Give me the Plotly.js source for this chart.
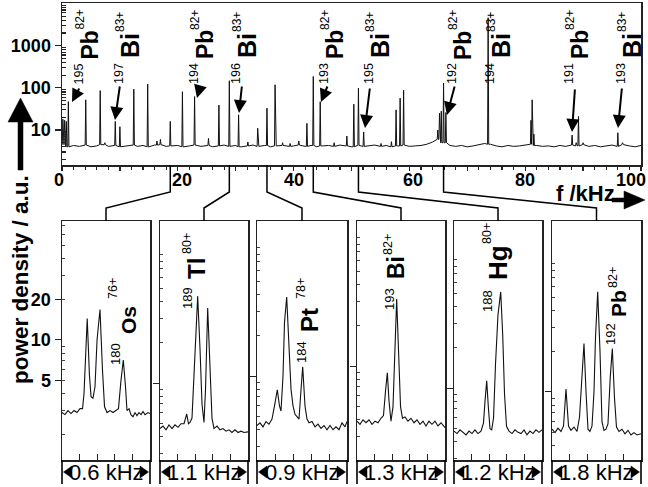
<!DOCTYPE html>
<html><head><meta charset="utf-8">
<script src="https://cdn.plot.ly/plotly-3.0.1.min.js"></script>
<style>html,body{margin:0;padding:0;background:#fff;overflow:hidden}#chart{width:648px;height:487px}</style>
</head><body><div id="chart"></div>
<script>
const W = 648, H = 487;
const FONT = 'Arial, "Liberation Sans", Helvetica, sans-serif';

// ---------- overview spectrum (0-100 kHz) ----------
// noise floor, one value per kHz from 0 to 100
const specBase = [4.5,4.0,4.3,4.1,4.4,4.0,4.2,4.5,4.1,4.3,
  4.0,4.2,4.4,4.1,4.3,4.0,4.4,4.5,4.1,4.2,
  4.3,4.0,4.2,4.4,4.1,4.3,4.0,4.2,4.4,4.1,
  4.3,4.0,4.2,4.4,4.1,4.3,4.0,4.2,4.3,4.1,
  4.2,4.4,4.1,4.3,4.0,4.2,4.3,4.1,4.4,4.2,
  4.0,4.3,4.1,4.2,4.4,4.1,4.3,4.0,4.2,4.4,
  4.1,4.2,4.3,4.6,5.2,6.0,5.0,4.3,4.1,4.3,
  4.0,4.2,4.4,4.8,4.6,4.2,4.0,4.3,4.1,4.2,
  4.4,4.6,4.3,4.1,4.2,4.0,4.3,4.1,4.4,4.2,
  4.5,4.1,4.3,4.0,4.2,4.4,4.1,4.5,4.2,4.0,4.3];
const peakFreq = [0.15,0.45,0.75,1.1,4.1,6.6,7.4,9.2,10.0,12.4,14.8,16.4,17.0,18.7,20.8,22.9,25.3,27.1,28.9,30.5,
  32.1,33.8,35.4,36.8,38.1,39.4,40.9,42.3,43.4,44.6,47.0,49.2,50.4,51.2,52.1,55.1,56.9,57.7,58.4,59.0,
  64.9,65.2,65.5,65.9,66.3,73.6,81.0,81.2,81.5,88.1,88.8,89.2,90.0,96.0,96.8];
const peakAmp = [18,17,16,47,52,86,5,16,12,93,123,5.5,6,16,81,62,6.3,39,147,23,
  5.2,11,33,118,5,4.8,5.5,14.4,186,47,5,7.2,41,98,9,4.8,5.3,30,57,88,
  10,25,28,130,26,4570,17,52,8,7.6,5,21,5,8.6,5];
const xTickVals = [0, 20, 40, 60, 80, 100];

// ---------- zoomed windows ----------
const osF  = [0,0.02,0.041,0.061,0.082,0.102,0.123,0.140,0.150,0.172,0.187,0.198,0.211,0.225,0.239,0.259,0.276,0.290,0.307,0.327,0.348,0.368,0.385,0.402,0.418,0.433,0.443,0.457,0.470,0.484,0.498,0.511,0.525,0.539,0.552,0.566,0.586,0.6];
const osP  = [2.9,2.8,3.0,2.85,3.0,2.9,3.1,3.1,4.0,14.4,5.5,3.8,3.7,4.5,10,16.8,6,3.2,2.9,3.0,2.9,3.0,3.1,5.0,7.1,4.5,3.0,3.1,2.8,2.7,2.9,2.75,2.9,2.8,2.95,2.8,2.9,2.85];
const tlF  = [0,0.0375,0.075,0.1125,0.15,0.1875,0.225,0.2625,0.3,0.334,0.356,0.375,0.4,0.4375,0.471,0.5,0.525,0.55,0.569,0.596,0.625,0.65,0.675,0.7125,0.75,0.7875,0.825,0.8625,0.9,0.9375,0.975,1.0125,1.05,1.1];
const tlP  = [4.6,4.8,4.5,4.9,4.6,4.9,4.7,5.0,5.0,5.9,5.0,5.1,5.5,15,44,18,7,5.1,9,36,14,5.5,4.6,4.8,4.5,4.6,4.4,4.5,4.3,4.5,4.3,4.4,4.3,4.35];
const ptF  = [0,0.03,0.06,0.09,0.12,0.15,0.175,0.203,0.225,0.24,0.26,0.275,0.297,0.32,0.34,0.36,0.38,0.4,0.42,0.435,0.457,0.48,0.5,0.52,0.55,0.58,0.61,0.64,0.67,0.70,0.73,0.76,0.79,0.82,0.85,0.88,0.9];
const ptP  = [4.3,4.5,4.2,4.6,4.4,4.8,6.0,7.9,6.0,5.5,10,25,38.5,15,8,6,5.2,5.0,4.8,7,11.7,6,4.8,4.5,4.6,4.2,4.4,4.1,4.3,4.0,4.3,4.0,4.2,4.0,4.5,4.2,4.6];
const biF  = [0,0.044,0.089,0.133,0.177,0.222,0.266,0.31,0.354,0.391,0.421,0.448,0.473,0.502,0.532,0.558,0.586,0.616,0.643,0.672,0.709,0.753,0.798,0.842,0.886,0.931,0.975,1.019,1.063,1.108,1.152,1.196,1.241,1.3];
const biP  = [3.9,3.7,4.0,3.8,4.0,3.7,3.9,3.8,4.1,4.3,6.5,8.9,5.5,3.9,5,15,31.3,12,5,4.1,4.2,3.9,4.1,3.8,4.0,3.7,3.9,3.6,3.9,3.7,3.9,3.6,3.8,3.5];
const hgF  = [0,0.041,0.082,0.123,0.164,0.205,0.245,0.286,0.327,0.368,0.402,0.423,0.446,0.470,0.491,0.514,0.539,0.566,0.600,0.637,0.664,0.689,0.716,0.75,0.791,0.832,0.873,0.914,0.955,0.995,1.036,1.077,1.118,1.159,1.2];
const hgP  = [4.8,4.6,4.9,4.7,4.5,4.8,4.6,4.9,4.6,4.8,5.5,8,11.3,7,5.0,4.9,6,15,35,51.5,25,9,5.2,4.8,4.6,4.9,4.7,4.6,4.9,4.5,4.8,4.6,4.9,4.7,4.9];
const pbF  = [0,0.061,0.121,0.182,0.233,0.283,0.334,0.384,0.445,0.506,0.556,0.607,0.647,0.688,0.728,0.768,0.809,0.849,0.879,0.924,0.971,1.011,1.052,1.092,1.132,1.179,1.22,1.264,1.304,1.355,1.416,1.476,1.537,1.597,1.658,1.719,1.8];
const pbP  = [5.3,5.0,5.4,5.1,5.6,10.5,5.6,5.2,5.5,5.1,6.5,14,22.9,10,5.3,5.1,5.6,10,25,55.2,20,6,5.2,5.3,5.8,13,21,9,5.5,5.1,5.3,4.9,5.2,4.8,5.0,4.8,4.9];

const panelF = [osF, tlF, ptF, biF, hgF, pbF];
const panelP = [osP, tlP, ptP, biP, hgP, pbP];
const panelSpan = [0.6, 1.1, 0.9, 1.3, 1.2, 1.8];
const panelSpanText = ['0.6 kHz','1.1 kHz','0.9 kHz','1.3 kHz','1.2 kHz','1.8 kHz'];
const zoomCenterF = [18.7, 28.9, 35.4, 43.4, 51.2, 65.9];

// labels
const topEl = ['Pb','Bi','Pb','Bi','Pb','Bi','Pb','Bi','Pb','Bi'];
const topMass = ['195','197','194','196','193','195','192','194','191','193'];
const topCharge = ['82+','83+','82+','83+','82+','83+','82+','83+','82+','83+'];
const insEl = ['Os','Tl','Pt','Bi','Hg','Pb'];
const insMass = ['180','189','184','193','188','192'];
const insCharge = ['76+','80+','78+','82+','80+','82+'];

// ---------- layout geometry (pixels) ----------
const topL = 62, topR = 641, topT = 3, topB = 165;
const panL = [62,160,257,357,454,552], panR = [150,248,347,445,542,641];
const panT = 221, panB = 460;
const panYRange = [[0.111,1.881],[0.430,2.200],[0.378,2.148],[0.304,2.074],[0.467,2.237],[0.496,2.267]];
const topLabX = [89.5,130,205,247,335,380,463,501,580,632];
const xTickShift = [-3, 4, 0, 4, 0, -10];
const arrows = [[80,87,72,102],[120,85,115,120],[200,87,197,98],[242,85,239,113],[328,85,321,102],
                [370,87,365,128],[455,85,447,115],[575,88,572,132],[622,87,618,128]];
const insElX=[128,196,309,396,498,618], insElY=[320,269,320,268,263,304], insElS=[21,24,24,23,26,21];
const insMassX=[115,187,301,389,487,610], insMassY=[354,298,352,299,301,334];
const insChX=[113,187,301,388,487,613], insChY=[289,244,289,245,234,278];

const px = x => x / W, py = y => 1 - y / H;

// ---------- build overview trace ----------
const pts = [];
specBase.forEach((b, i) => {
  if (!peakFreq.some(f => Math.abs(f - i) < 0.15)) pts.push([i, b]);
});
peakFreq.forEach((f, k) => {
  const foot = specBase[Math.round(f)];
  pts.push([f - 0.1, foot]); pts.push([f, peakAmp[k]]); pts.push([f + 0.1, foot]);
});
pts.sort((a, b) => a[0] - b[0]);

const traces = [{
  x: pts.map(p => p[0]), y: pts.map(p => p[1]), type: 'scatter', mode: 'lines',
  line: {color: '#111', width: 1}, xaxis: 'x', yaxis: 'y', hoverinfo: 'skip', showlegend: false
}];
panelF.forEach((f, k) => {
  traces.push({x: f, y: panelP[k], type: 'scatter', mode: 'lines', line: {color: '#111', width: 1.1},
    xaxis: 'x' + (k + 2), yaxis: 'y' + (k + 2), hoverinfo: 'skip', showlegend: false});
});

const minorLog = [];
[1,10,100,1000].forEach(d => { for (let m = 2; m <= 9; m++) minorLog.push(m * d); });

const layout = {
  width: W, height: H, margin: {l:0, r:0, t:0, b:0},
  paper_bgcolor: '#fff', plot_bgcolor: '#fff', showlegend: false,
  font: {family: FONT, color: '#000'},
  xaxis: {
    domain: [px(topL), px(topR)], range: [0, 100], anchor: 'y',
    showline: true, mirror: true, linecolor: '#222', linewidth: 1.5, showgrid: false, zeroline: false,
    tickmode: 'array', tickvals: [0,10,20,30,40,50,60,70,80,90,100], showticklabels: false,
    ticks: 'outside', ticklen: 4, tickwidth: 1.2, tickcolor: '#222',
    minor: {tickmode: 'linear', dtick: 2, ticks: 'outside', ticklen: 3, tickcolor: '#222'}
  },
  yaxis: {
    domain: [py(topB), py(topT)], type: 'log', range: [0.171, 4.01], anchor: 'x',
    showline: true, mirror: true, linecolor: '#222', linewidth: 1.5, showgrid: false, zeroline: false,
    tickmode: 'array', tickvals: [10, 100, 1000], ticktext: ['10','100','1000'],
    ticks: 'outside', ticklen: 6, tickwidth: 1.2, tickcolor: '#222',
    minor: {tickmode: 'array', tickvals: minorLog, ticks: 'inside', ticklen: 4, tickcolor: '#222'},
    tickfont: {family: FONT, size: 18, weight: 'bold', color: '#000'}
  },
  shapes: [], annotations: []
};

panelSpan.forEach((w, k) => {
  const xa = 'xaxis' + (k + 2), ya = 'yaxis' + (k + 2);
  layout[xa] = {
    domain: [px(panL[k]), px(panR[k])], range: [0, w], anchor: 'y' + (k + 2),
    showline: true, mirror: true, linecolor: '#222', linewidth: 1.5, showgrid: false, zeroline: false,
    tickmode: 'array', tickvals: [w/5, 2*w/5, 3*w/5, 4*w/5], ticks: 'inside', ticklen: 6,
    tickcolor: '#222', showticklabels: false
  };
  layout[ya] = {
    domain: [py(panB), py(panT)], type: 'log', range: panYRange[k], anchor: 'x' + (k + 2),
    showline: true, mirror: true, linecolor: '#222', linewidth: 1.5, showgrid: false, zeroline: false,
    tickmode: 'array', tickvals: k === 0 ? [5, 10, 20] : [10], ticktext: k === 0 ? ['5','10','20'] : [''],
    ticks: 'outside', ticklen: 6, tickcolor: '#222', showticklabels: k === 0,
    minor: {tickmode: 'array', tickvals: minorLog, ticks: 'inside', ticklen: 3, tickcolor: '#444'},
    tickfont: {family: FONT, size: 18, weight: 'bold', color: '#000'}
  };
});

const pathOf = ptsPx => ptsPx.map((p, i) => (i ? 'L' : 'M') + px(p[0]).toFixed(5) + ',' + py(p[1]).toFixed(5)).join(' ');
const addPath = (ptsPx, fill, w) => layout.shapes.push({
  type: 'path', xref: 'paper', yref: 'paper', path: pathOf(ptsPx) + (fill ? ' Z' : ''),
  line: {color: '#000', width: w || 1.5}, fillcolor: fill ? '#000' : 'rgba(0,0,0,0)'
});

// connectors from overview to zoom windows
zoomCenterF.forEach((f, k) => {
  const xp = topL + f / 100 * (topR - topL);
  const cx = (panL[k] + panR[k]) / 2;
  addPath([[xp, topB], [xp, 192], [cx, 208], [cx, panT]], false, 1.5);
});

// bottom span labels
panelSpanText.forEach((t, k) => {
  const L = panL[k], R = panR[k];
  addPath([[L, panB], [L, 484]], false, 1.6);
  addPath([[R, panB], [R, 484]], false, 1.6);
  addPath([[L + 1.5, 472], [L + 10, 466], [L + 10, 478]], true, 0.5);
  addPath([[R - 1.5, 472], [R - 10, 466], [R - 10, 478]], true, 0.5);
  layout.annotations.push({text: t, x: px((L + R) / 2), y: py(472), xref: 'paper', yref: 'paper',
    xanchor: 'center', yanchor: 'middle', showarrow: false, font: {family: FONT, size: 22, color: '#000'}});
});

// vertical axis arrow + f arrow
addPath([[20.5, 98], [33, 122], [8, 122]], true, 0.5);
addPath([[18, 121], [23, 121], [23, 170], [18, 170]], true, 0.5);
addPath([[612, 198], [626, 198], [626, 202], [612, 202]], true, 0.5);
addPath([[645, 200], [624, 191], [624, 209]], true, 0.5);

const ann = (text, x, y, size, angle, extra) => layout.annotations.push(Object.assign({
  text: text, x: px(x), y: py(y), xref: 'paper', yref: 'paper', xanchor: 'center', yanchor: 'middle',
  showarrow: false, textangle: angle || 0, font: {family: FONT, size: size, color: '#000'}
}, extra || {}));

ann('<b>power density / a.u.</b>', 20, 280, 22.5, -90);
ann('<b>f /kHz</b>', 585, 193, 22, 0);

// x tick labels of the overview axis
xTickVals.forEach((v, k) => {
  layout.annotations.push({text: '<b>' + v + '</b>', x: v, xref: 'x', y: py(180), yref: 'paper',
    xshift: xTickShift[k], xanchor: 'center', yanchor: 'middle', showarrow: false,
    font: {family: FONT, size: 18, color: '#000'}});
});

// overview labels
topEl.forEach((el, k) => {
  const x = topLabX[k];
  ann('<b>' + el + '</b>', x, el === 'Pb' ? 45 : 46, el === 'Pb' ? 23 : 25, -90);
  ann(topMass[k], x - 11, 74, 12.5, -90);
  ann(topCharge[k], x - 10, el === 'Pb' ? 20 : 22, 12, -90);
});
arrows.forEach(a => {
  layout.annotations.push({text: '', x: px(a[2]), y: py(a[3]), xref: 'paper', yref: 'paper',
    ax: a[0] - a[2], ay: a[1] - a[3], axref: 'pixel', ayref: 'pixel', showarrow: true,
    arrowhead: 2, arrowsize: 1.3, arrowwidth: 2, arrowcolor: '#000', standoff: 0, startstandoff: 0});
});
// zoom-window labels
insEl.forEach((el, k) => {
  ann('<b>' + el + '</b>', insElX[k], insElY[k], insElS[k], -90);
  ann(insMass[k], insMassX[k], insMassY[k], 13, -90);
  ann(insCharge[k], insChX[k], insChY[k], 12.5, -90);
});

Plotly.newPlot('chart', traces, layout, {staticPlot: true, displayModeBar: false});
</script></body></html>
